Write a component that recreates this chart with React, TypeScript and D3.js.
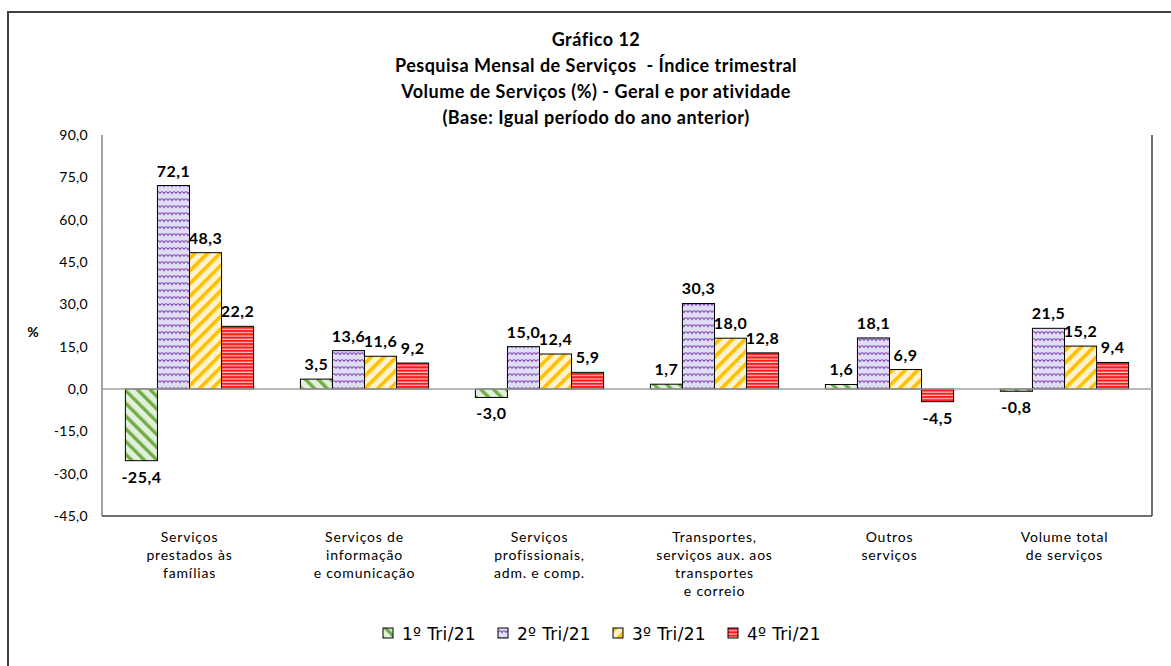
import React from "react";
import * as d3 from "d3";

const categories: string[][] = [
  ["Serviços", "prestados às", "famílias"],
  ["Serviços de", "informação", "e comunicação"],
  ["Serviços", "profissionais,", "adm. e comp."],
  ["Transportes,", "serviços aux. aos", "transportes", "e correio"],
  ["Outros", "serviços"],
  ["Volume total", "de serviços"],
];
const seriesNames = ["1º Tri/21", "2º Tri/21", "3º Tri/21", "4º Tri/21"];
const tri1 = [-25.4, 3.5, -3.0, 1.7, 1.6, -0.8];
const tri2 = [72.1, 13.6, 15.0, 30.3, 18.1, 21.5];
const tri3 = [48.3, 11.6, 12.4, 18.0, 6.9, 15.2];
const tri4 = [22.2, 9.2, 5.9, 12.8, -4.5, 9.4];
const yTicks = [90, 75, 60, 45, 30, 15, 0, -15, -30, -45];
const titleLines = [
  "Gráfico 12",
  "Pesquisa Mensal de Serviços  - Índice trimestral",
  "Volume de Serviços (%) - Geral e por atividade",
  "(Base: Igual período do ano anterior)",
];

const series = [tri1, tri2, tri3, tri4];
const patternIds = ["pGreen", "pPurple", "pYellow", "pRed"];
const FONT = "Lato, 'Open Sans', sans-serif";

const fmt = (v: number) => v.toFixed(1).replace(".", ",");

export default function App() {
  const W = 1171;
  const H = 666;
  const left = 102;
  const right = 1152;
  const top = 135;
  const bottom = 516;

  const y = d3.scaleLinear().domain([-45, 90]).range([bottom, top]);
  const x0 = d3
    .scaleBand<number>()
    .domain(categories.map((_, i) => i))
    .range([left, right]);
  const x1 = d3
    .scaleBand<number>()
    .domain(seriesNames.map((_, i) => i))
    .range([0, x0.bandwidth()])
    .paddingOuter(0.73)
    .paddingInner(0);

  const legendX = d3.scalePoint<number>().domain([0, 1, 2, 3]).range([383, 728]);

  return (
    <svg
      width={W}
      height={H}
      style={{ position: "absolute", left: 0, top: 0, background: "#fff" }}
      fontFamily={FONT}
    >
      <defs>
        <pattern id="pGreen" patternUnits="userSpaceOnUse" width="9" height="9" patternTransform="rotate(-45)">
          <rect width="9" height="9" fill="#e2efda" />
          <rect width="3.4" height="9" fill="#70ad47" />
        </pattern>
        <pattern id="pYellow" patternUnits="userSpaceOnUse" width="9" height="9" patternTransform="rotate(45)">
          <rect width="9" height="9" fill="#fff2cc" />
          <rect width="3.6" height="9" fill="#ffc000" />
        </pattern>
        <pattern id="pPurple" patternUnits="userSpaceOnUse" width="8" height="7">
          <rect width="8" height="7" fill="#e0def5" />
          <path d="M0 4.5 Q2 1 4 4.5 Q6 1 8 4.5" fill="none" stroke="#8040b0" strokeWidth="1.2" />
        </pattern>
        <pattern id="pRed" patternUnits="userSpaceOnUse" width="6" height="3.3">
          <rect width="6" height="3.3" fill="#ffc4c4" />
          <rect width="6" height="2.1" fill="#ff1a1a" />
        </pattern>
      </defs>

      {/* outer border */}
      <rect x={8} y={12} width={1200} height={700} fill="#fff" stroke="#404040" strokeWidth={2} />

      {/* title */}
      {titleLines.map((t, i) => (
        <text
          key={i}
          x={596}
          y={46 + i * 26}
          textAnchor="middle"
          fontWeight="bold"
          fontSize={18}
          letterSpacing={0.5}
          fill="#000"
          style={{ whiteSpace: "pre" }}
        >
          {t}
        </text>
      ))}

      {/* plot frame */}
      <line x1={left} x2={left} y1={top} y2={bottom} stroke="#868686" strokeWidth={1.5} />
      <line x1={right} x2={right} y1={top} y2={bottom} stroke="#404040" strokeWidth={1.5} />
      <line x1={left} x2={right} y1={bottom} y2={bottom} stroke="#404040" strokeWidth={1.5} />

      {/* y tick labels */}
      {yTicks.map((t) => (
        <text key={t} x={88} y={y(t) + 5} textAnchor="end" fontSize={14} letterSpacing={0.3} fill="#000">
          {fmt(t)}
        </text>
      ))}
      <text x={33} y={337} textAnchor="middle" fontSize={14} fontWeight="bold" fill="#000">
        %
      </text>

      {/* bars */}
      {series.map((vals, s) =>
        vals.map((v, c) => {
          const bx = (x0(c) as number) + (x1(s) as number);
          const by = Math.min(y(v), y(0));
          const bh = Math.abs(y(v) - y(0));
          return (
            <rect
              key={`${s}-${c}`}
              x={bx}
              y={by}
              width={x1.bandwidth()}
              height={bh}
              fill={`url(#${patternIds[s]})`}
              stroke="#000"
              strokeWidth={1}
            />
          );
        })
      )}

      {/* zero line */}
      <line x1={left} x2={right} y1={y(0)} y2={y(0)} stroke="#a0a0a0" strokeWidth={1.5} />

      {/* data labels */}
      {series.map((vals, s) =>
        vals.map((v, c) => {
          const cx = (x0(c) as number) + (x1(s) as number) + x1.bandwidth() / 2;
          const ly = v >= 0 ? y(v) - 9 : y(v) + 22;
          return (
            <text
              key={`l${s}-${c}`}
              x={cx}
              y={ly}
              textAnchor="middle"
              fontWeight="bold"
              fontSize={16}
              letterSpacing={0.5}
              fill="#000"
            >
              {fmt(v)}
            </text>
          );
        })
      )}

      {/* category labels */}
      {categories.map((lines, c) => (
        <text
          key={`c${c}`}
          x={(x0(c) as number) + x0.bandwidth() / 2}
          textAnchor="middle"
          fontSize={14}
          letterSpacing={0.8}
          fill="#000"
        >
          {lines.map((ln, i) => (
            <tspan key={i} x={(x0(c) as number) + x0.bandwidth() / 2} y={542 + i * 18}>
              {ln}
            </tspan>
          ))}
        </text>
      ))}

      {/* legend */}
      {seriesNames.map((n, s) => (
        <g key={`lg${s}`} transform={`translate(${legendX(s)},628)`}>
          <rect x={0} y={0} width={10} height={10} fill={`url(#${patternIds[s]})`} stroke="#000" strokeWidth={1} />
          <text x={19} y={12} fontSize={17} letterSpacing={0.3} fontFamily="'DejaVu Sans', sans-serif" fill="#000">
            {n}
          </text>
        </g>
      ))}
    </svg>
  );
}
